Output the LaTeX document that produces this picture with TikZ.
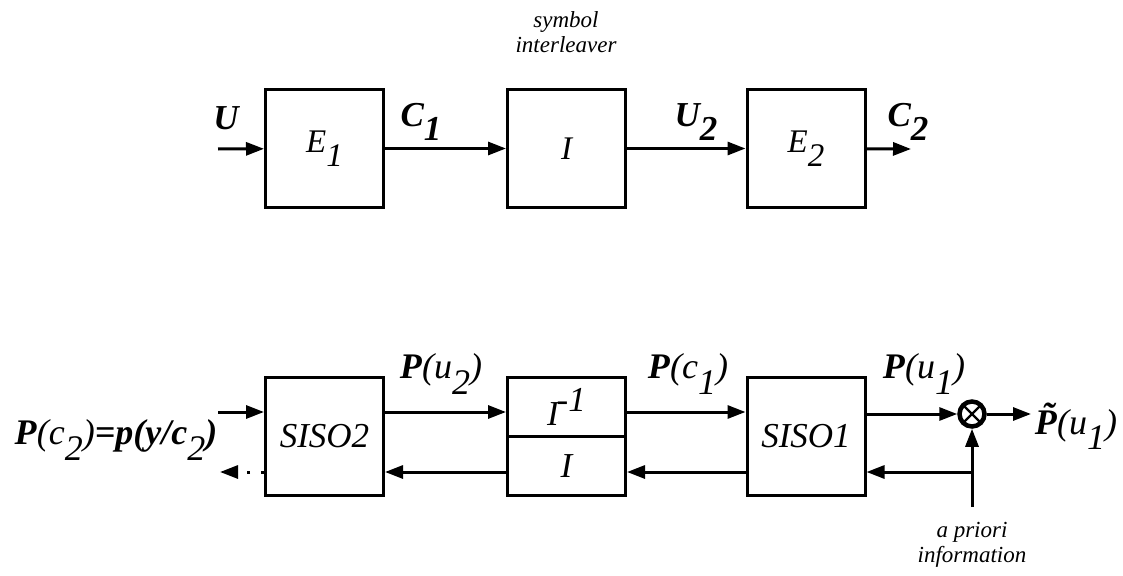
\documentclass[tikz,border=0pt]{standalone}
\usepackage{fontspec}
\setmainfont{Liberation Serif}
\usepackage{tikz}
\usetikzlibrary{
  positioning,
  arrows.meta,
  calc
}
\definecolor{LineColor}{RGB}{0,0,0}
\newcommand{\lo}[1]{\raisebox{-0.42em}{#1}}
\tikzset{
  % Processing block
  block/.style={
    rectangle,
    draw=LineColor,
    line width=3pt,
    minimum width=118pt,
    minimum height=118pt,
    inner sep=0pt,
    font=\fontsize{33}{36}\selectfont\itshape
  },
  % Decoder block (larger text)
  dblock/.style={block, font=\fontsize{35}{38}\selectfont\itshape},
  % Half of the interleaver block
  hblock/.style={dblock, minimum height=59pt},
  % Signal flow
  flow/.style={
    draw=LineColor,
    line width=3pt,
    -{Triangle[length=18pt,width=13pt]}
  },
  % Dotted output
  dotflow/.style={flow, dash pattern=on 3pt off 11pt},
  % Signal label (top row)
  siglabel/.style={font=\fontsize{35}{38}\selectfont\bfseries\itshape, inner sep=0pt},
  % Probability label (bottom row)
  plabel/.style={font=\fontsize{36}{39}\selectfont, inner sep=0pt},
  % Small note
  note/.style={font=\fontsize{23}{25}\selectfont\itshape, align=center, inner sep=0pt},
  % Multiplier
  mult/.style={
    circle,
    draw=LineColor,
    line width=4.5pt,
    minimum size=25pt,
    inner sep=0pt,
    path picture={
      \draw[line width=2.4pt] (path picture bounding box.north west) -- (path picture bounding box.south east);
      \draw[line width=2.4pt] (path picture bounding box.south west) -- (path picture bounding box.north east);
    }
  }
}
\begin{document}
\begin{tikzpicture}[x=1pt, y=-1pt]
  \useasboundingbox (0,0) rectangle (1123,575);
  % encoder chain
  \node[block] (E1) at (324.5,148.5) {E\lo{1}};
  \node[block] (I1) at (566.5,148.5) {I};
  \node[block] (E2) at (806,148.5) {E\lo{2}};
  \node[note] (sym) at (566,32) {symbol\\interleaver};
  \coordinate (uin) at (218,149);
  \coordinate (cout) at (911,149);
  \draw[flow] (uin) -- (E1);
  \draw[flow] (E1) -- (I1);
  \draw[flow] (I1) -- (E2);
  \draw[flow] (E2) -- (cout);
  \node[siglabel] (lU) at (226,118) {U};
  \node[siglabel] (lC1) at (421,122) {C\lo{1}};
  \node[siglabel] (lU2) at (696,122) {U\lo{2}};
  \node[siglabel] (lC2) at (908,122) {C\lo{2}};
  % decoder
  \coordinate (rowA) at (0,412);
  \coordinate (rowB) at (0,472);
  \node[dblock] (S2) at (324.5,436.5) {SISO2};
  \node[hblock] (Iinv) at (566.5,407) {I\kern-0.06em\raisebox{0.38em}{-1}};
  \node[hblock] (Ilow) at (566.5,466) {I};
  \node[dblock] (S1) at (806,436.5) {SISO1};
  \node[mult] (mul) at (972,414) {};
  \coordinate (pin) at (218,412);
  \coordinate (pout) at (220,472);
  \coordinate (tout) at (1031,414);
  \coordinate (apri) at (972,507);
  \coordinate (tap) at (972,472);
  \draw[flow] (pin) -- (S2.west |- rowA);
  \draw[dotflow] (S2.west |- rowB) -- (pout);
  \draw[flow] (S2.east |- rowA) -- (Iinv.west |- rowA);
  \draw[flow] (Iinv.east |- rowA) -- (S1.west |- rowA);
  \draw[flow] (S1.east |- mul) -- (mul);
  \draw[flow] (mul) -- (tout);
  \draw[flow] (S1.west |- rowB) -- (Ilow.east |- rowB);
  \draw[flow] (Ilow.west |- rowB) -- (S2.east |- rowB);
  \draw[flow] (apri) -- (mul);
  \draw[flow] (tap) -- (S1.east |- tap);
  \node[plabel] (lPu2) at (441,374) {\textbf{\textit{P}}\textit{(u\lo{2})}};
  \node[plabel] (lPc1) at (688,374) {\textbf{\textit{P}}\textit{(c\lo{1})}};
  \node[plabel] (lPu1) at (924,374) {\textbf{\textit{P}}\textit{(u\lo{1})}};
  \node[plabel] (lPt) at (1076,426) {\textbf{\textit{\accent"02DC P}}\textit{(u\lo{1})}};
  \node[plabel] (lPc2) at (116,440) {\textbf{\textit{P}}\textit{(c\lo{2})}\textbf{\textit{=p(y/c}}\textit{\lo{2}}\textbf{\textit{)}}};
  \node[note] (lapri) at (972,545) {a priori\\information};
\end{tikzpicture}
\end{document}
